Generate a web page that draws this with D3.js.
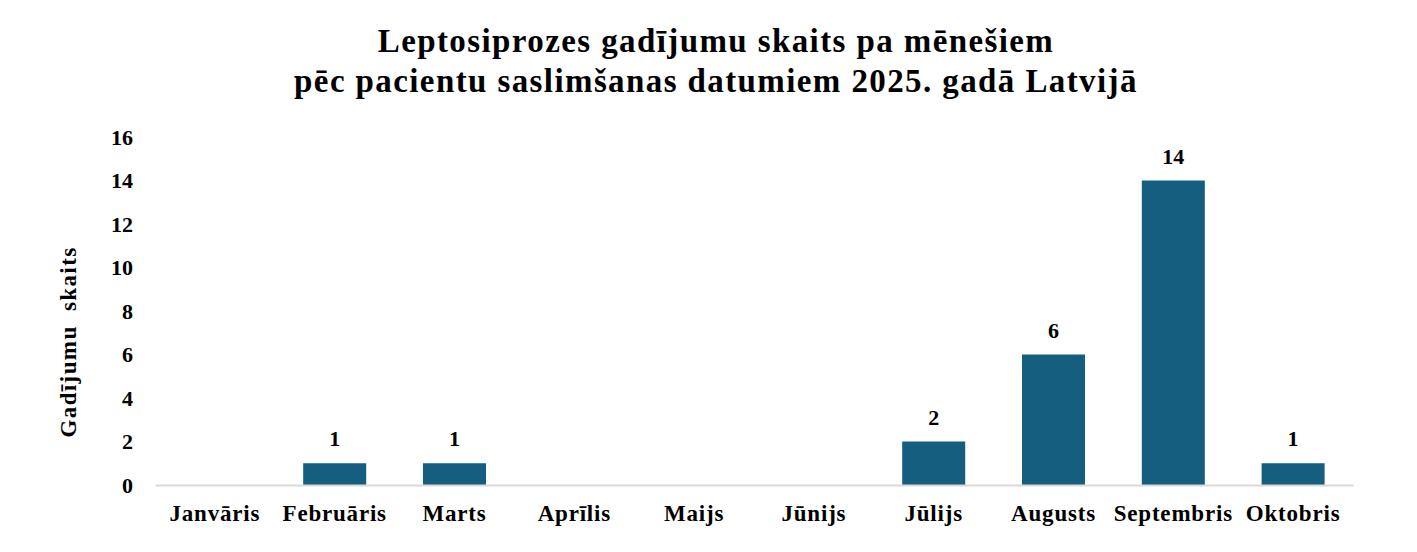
<!DOCTYPE html>
<html><head><meta charset="utf-8">
<script src="https://cdn.jsdelivr.net/npm/d3@7"></script>
<style>
html,body{margin:0;padding:0;background:#fff;}
text{font-family:"Liberation Serif","Times New Roman",serif;font-weight:bold;fill:#000;}
</style></head>
<body><svg id="c" width="1417" height="552"></svg>
<script>
const categories = ["Janvāris","Februāris","Marts","Aprīlis","Maijs","Jūnijs","Jūlijs","Augusts","Septembris","Oktobris"];
const values = [0,1,1,0,0,0,2,6,14,1];
const yTicks = [0,2,4,6,8,10,12,14,16];
const titleLines = ["Leptosiprozes gadījumu skaits pa mēnešiem","pēc pacientu saslimšanas datumiem 2025. gadā Latvijā"];
const yTitle = "Gadījumu  skaits";

(function(){
const svg = d3.select("#c");
const mL = 155, mR = 1353, mT = 137, mB = 485;
const x = d3.scaleBand().domain(categories).range([mL, mR]).paddingInner(0.474).paddingOuter(0.237);
const y = d3.scaleLinear().domain([0,16]).range([mB, mT]);

svg.selectAll("text.title").data(titleLines).join("text")
  .attr("class","title").attr("x",716).attr("y",(d,i)=>52+i*40)
  .attr("text-anchor","middle").style("font-size","33px").style("letter-spacing","1.4px").text(d=>d);

const yAxis = d3.axisLeft(y).tickValues(yTicks).tickSize(0).tickPadding(0);
const gy = svg.append("g").attr("transform",`translate(133,0)`).call(yAxis);
gy.select(".domain").remove();
gy.selectAll("text").style("font-size","22px").attr("dy","0.34em").attr("text-anchor","end");

svg.selectAll("rect.bar").data(values.map((v,i)=>({c:categories[i],v}))).join("rect")
  .attr("class","bar").attr("x",d=>x(d.c)).attr("width",x.bandwidth())
  .attr("y",d=>y(d.v)).attr("height",d=>y(0)-y(d.v)).attr("fill","#165e80");

const xAxis = d3.axisBottom(x).tickSize(0).tickPadding(0);
const gx = svg.append("g").attr("transform",`translate(0,${mB})`).call(xAxis);
gx.select(".domain").attr("stroke","#d9d9d9").attr("stroke-width",2);
gx.selectAll("text").style("font-size","23px").style("letter-spacing","0.8px").attr("dy",0).attr("y",36);

svg.selectAll("text.lbl").data(values.map((v,i)=>({c:categories[i],v})).filter(d=>d.v>0)).join("text")
  .attr("class","lbl").attr("x",d=>x(d.c)+x.bandwidth()/2).attr("y",d=>y(d.v)-17)
  .attr("text-anchor","middle").style("font-size","22px").text(d=>d.v);

svg.append("text").attr("transform",`translate(76,342) rotate(-90)`)
  .attr("text-anchor","middle").style("font-size","23px").style("letter-spacing","1.4px").style("white-space","pre").text(yTitle);
})();
</script></body></html>
